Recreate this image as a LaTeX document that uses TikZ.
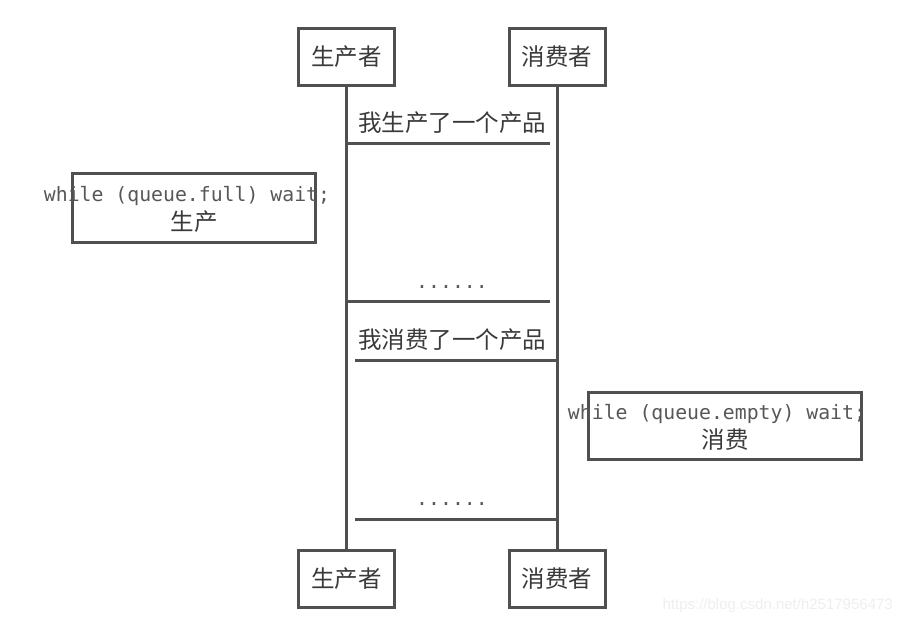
\documentclass[tikz,border=0pt]{standalone}
\usepackage{fontspec}
\setmainfont{Noto Sans CJK SC}
\newfontfamily\cjkf{Noto Sans CJK SC}
\newfontfamily\monof{DejaVu Sans Mono}
\newfontfamily\wmf{Liberation Sans}
\definecolor{linec}{HTML}{505050}
\definecolor{textc}{HTML}{3A3A3A}
\definecolor{wmc}{HTML}{EEEEEE}
\tikzset{
  actor/.style={draw=linec, line width=3pt, fill=white, minimum width=96pt, minimum height=57pt,
    inner sep=0pt, text=textc, font=\cjkf\fontsize{23.5}{26}\selectfont},
  notebox/.style={draw=linec, line width=3pt, inner sep=0pt},
  lifeline/.style={draw=linec, line width=3pt},
  msg/.style={draw=linec, line width=3pt},
  cjklabel/.style={text=textc, inner sep=0pt, font=\cjkf\fontsize{23.5}{26}\selectfont},
  monolabel/.style={text=textc!85!white, inner sep=0pt, font=\monof\fontsize{19.8}{22}\selectfont},
  wmark/.style={text=wmc, inner sep=0pt, font=\wmf\fontsize{15}{17}\selectfont}
}
\begin{document}
\begin{tikzpicture}[x=1pt, y=-1pt]
\useasboundingbox (0,0) rectangle (903,624);
% actors
\node[actor] (p1) at (346.5,56.5) {生产者};
\node[actor] (c1) at (557,56.5) {消费者};
\node[actor] (p2) at (346.5,578.5) {生产者};
\node[actor] (c2) at (557,578.5) {消费者};
% lifelines
\draw[lifeline] (p1.south) -- (p2.north);
\draw[lifeline] (c1.south) -- (c2.north);
% message endpoints
\coordinate (m1a) at (347,143.5);
\coordinate (m1b) at (550,143.5);
\coordinate (m2a) at (347,301);
\coordinate (m2b) at (550,301);
\coordinate (m3a) at (355,360.5);
\coordinate (m3b) at (557,360.5);
\coordinate (m4a) at (355,519);
\coordinate (m4b) at (557,519);
\draw[msg] (m1a) -- (m1b);
\draw[msg] (m2a) -- (m2b);
\draw[msg] (m3a) -- (m3b);
\draw[msg] (m4a) -- (m4b);
% message labels
\node[cjklabel] (l1) at (452,123) {我生产了一个产品};
\node[monolabel] (l2) at (452,287) {......};
\node[cjklabel] (l3) at (452,340) {我消费了一个产品};
\node[monolabel] (l4) at (452,504) {......};
% notes
\node[notebox, minimum width=243pt, minimum height=69pt] (n1) at (194,208) {};
\node[monolabel] (n1a) at (187,196) {while (queue.full) wait;};
\node[cjklabel] (n1b) at (194,222) {生产};
\node[notebox, minimum width=273pt, minimum height=67pt] (n2) at (725,426) {};
\node[monolabel] (n2a) at (717,414) {while (queue.empty) wait;};
\node[cjklabel] (n2b) at (725,440) {消费};
% watermark
\node[wmark, anchor=east] (wm) at (893,606) {https://blog.csdn.net/h2517956473};
\end{tikzpicture}
\end{document}
